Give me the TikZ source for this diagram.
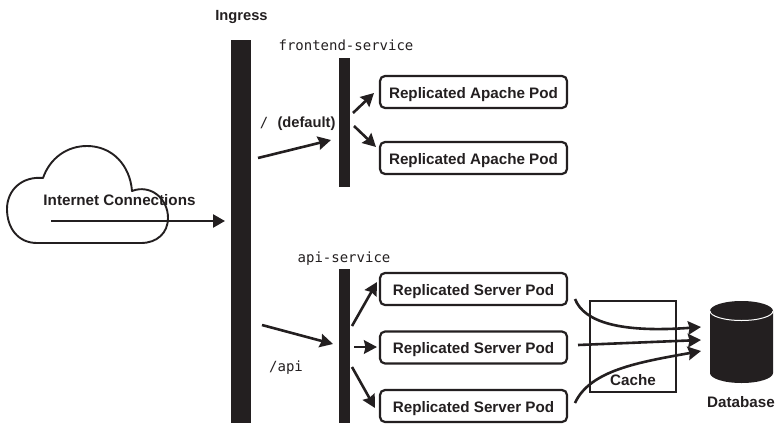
\documentclass[tikz,border=0pt]{standalone}
\usepackage{fontspec}
\setmainfont{Liberation Sans}
\newfontfamily\codefont{DejaVu Sans Mono}
\usetikzlibrary{arrows.meta,calc}
\definecolor{ink}{HTML}{231F20}
\tikzset{
  x=1pt,y=-1pt,
  bar/.style={fill=ink,draw=none,inner sep=0pt,anchor=north west},
  pod/.style={draw=ink,line width=2.2pt,rounded corners=5pt,fill=white,inner sep=0pt,minimum width=187pt,minimum height=32pt,text height=15.5pt,text depth=3pt,font=\fontsize{15.2}{17}\selectfont\bfseries,text=ink},
  boldlabel/.style={inner sep=0pt,font=\fontsize{15.2}{17}\selectfont\bfseries,text=ink},
  smallbold/.style={inner sep=0pt,font=\fontsize{14.7}{17}\selectfont\bfseries,text=ink},
  codelabel/.style={inner sep=0pt,font=\fontsize{14}{16}\selectfont\codefont,text=ink},
  flow/.style={draw=ink,line width=2.6pt,-{Stealth[length=13pt,width=13.5pt,inset=1.5pt]}},
  solidflow/.style={draw=ink,line width=2.4pt,-{Triangle[length=12pt,width=13pt]}},
}
\begin{document}
\begin{tikzpicture}
\useasboundingbox (0,0) rectangle (775,423);
% cloud
\draw[ink,line width=1.9pt,line join=round]
  (37,243) .. controls (18,243) and (7,228) .. (7,209)
  .. controls (7,190) and (22,176) .. (43,178)
  .. controls (50,158) and (67,146) .. (87,146)
  .. controls (112,146) and (130,165) .. (132,191)
  .. controls (150,184) and (168,198) .. (168,218)
  .. controls (168,233) and (157,243) .. (141,243) -- cycle;
% bars
\node[bar,minimum width=20pt,minimum height=383pt] (ingressbar) at (231,40) {};
\node[bar,minimum width=11pt,minimum height=129pt] (frontbar) at (339,58) {};
\node[bar,minimum width=11pt,minimum height=154pt] (apibar) at (339,269) {};
% pods
\node[pod] (a1) at (473.5,92) {Replicated Apache Pod};
\node[pod] (a2) at (473.5,158) {Replicated Apache Pod};
\node[pod] (s1) at (473.5,289) {Replicated Server Pod};
\node[pod] (s2) at (473.5,347.5) {Replicated Server Pod};
\node[pod] (s3) at (473.5,406) {Replicated Server Pod};
% cache
\node[draw=ink,line width=1.7pt,minimum width=86pt,minimum height=91pt,inner sep=0pt] (cache) at (633,346.5) {};
\node[boldlabel] (cachelabel) at (633,380) {Cache};
% database
\fill[ink] (710,311) arc[x radius=31.5,y radius=10,start angle=180,end angle=360]
  -- (773,373) arc[x radius=31.5,y radius=10,start angle=0,end angle=180] -- cycle;
\draw[white,line width=1pt] (710,311) arc[x radius=31.5,y radius=9.5,start angle=180,end angle=0];
\coordinate (db1) at (701,327);
\coordinate (db2) at (701,340);
\coordinate (db3) at (701,351);
% labels
\node[smallbold] (ingress) at (241.5,17.5) {Ingress};
\node[boldlabel] (internet) at (119.5,200) {Internet Connections};
\node[codelabel] (frontname) at (346,45.5) {frontend-service};
\node[codelabel] (apiname) at (344,258.5) {api-service};
\node[codelabel] (slash) at (264,123) {/};
\node[smallbold] (default) at (306.5,124) {(default)};
\node[codelabel] (apipath) at (286,367.5) {/api};
\node[boldlabel] (database) at (741,402) {Database};
% free ends
\coordinate (inetstart) at (51,221);
\coordinate (inetend) at (225,221);
\coordinate (f0) at (258,158); \coordinate (f1) at (331,140);
\coordinate (fa1s) at (353,113); \coordinate (fa1e) at (374,93);
\coordinate (fa2s) at (354,126); \coordinate (fa2e) at (376,147);
\coordinate (p0) at (262,325); \coordinate (p1) at (333,344);
\coordinate (as1s) at (352,326); \coordinate (as1e) at (377,282);
\coordinate (as2s) at (354,347); \coordinate (as2e) at (377,347);
\coordinate (as3s) at (352,367); \coordinate (as3e) at (375,408);
\coordinate (c1s) at (575,299);
\coordinate (c2s) at (578,345);
\coordinate (c3s) at (575,403);
% connectors
\draw[solidflow] (inetstart) -- (inetend);
\draw[flow] (f0) -- (f1);
\draw[flow] (fa1s) -- (fa1e);
\draw[flow] (fa2s) -- (fa2e);
\draw[flow] (p0) -- (p1);
\draw[flow] (as1s) -- (as1e);
\draw[flow] (as2s) -- (as2e);
\draw[flow] (as3s) -- (as3e);
\draw[flow] (c1s) .. controls (584,322) and (620,333) .. (db1);
\draw[flow] (c2s) -- (db2);
\draw[flow] (c3s) .. controls (590,370) and (640,362) .. (db3);
\end{tikzpicture}
\end{document}
